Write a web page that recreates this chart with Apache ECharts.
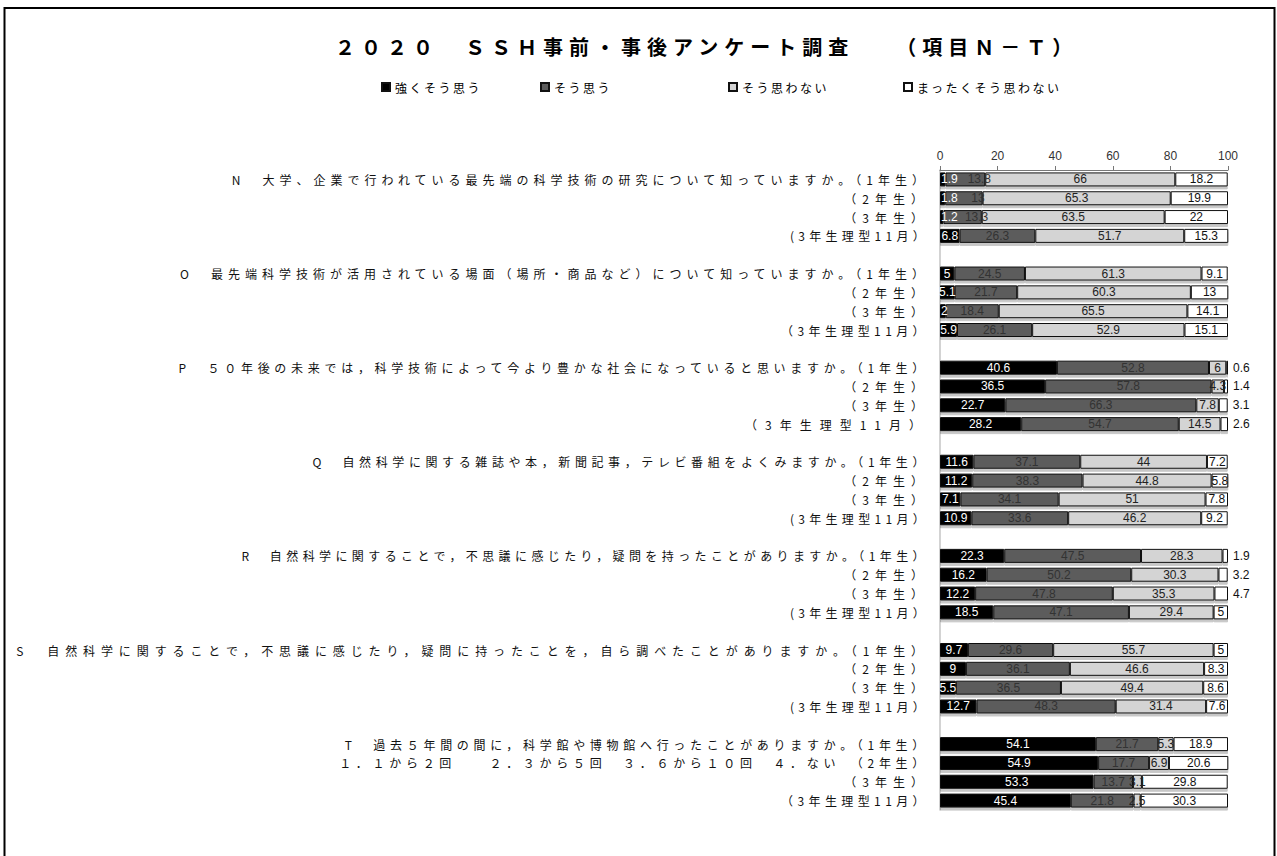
<!DOCTYPE html>
<html>
<head>
<meta charset="utf-8">
<script src="https://cdn.jsdelivr.net/npm/echarts@6/dist/echarts.min.js"></script>
<style>
  html, body { margin: 0; padding: 0; background: #fff; }
  #chart { width: 1277px; height: 856px; }
</style>
</head>
<body>
<div id="chart"></div>
<script>
// Row labels, 4 rows per question (N–T)
const categories = [
  'N　大学、企業で行われている最先端の科学技術の研究について知っていますか。（1年生）', '（2年生）', '（3年生）', '(3年生理型11月）',
  'O　最先端科学技術が活用されている場面（場所・商品など）について知っていますか。（1年生）', '（2年生）', '（3年生）', '（3年生理型11月）',
  'P　５０年後の未来では，科学技術によって今より豊かな社会になっていると思いますか。（1年生）', '（2年生）', '（3年生）', '（3年生理型11月）',
  'Q　自然科学に関する雑誌や本，新聞記事，テレビ番組をよくみますか。（1年生）', '（2年生）', '（3年生）', '(3年生理型11月）',
  'R　自然科学に関することで，不思議に感じたり，疑問を持ったことがありますか。（1年生）', '（2年生）', '（3年生）', '(3年生理型11月）',
  'S　自然科学に関することで，不思議に感じたり，疑問に持ったことを，自ら調べたことがありますか。（1年生）', '（2年生）', '（3年生）', '(3年生理型11月）',
  'T　過去５年間の間に，科学館や博物館へ行ったことがありますか。（1年生）', '１．１から２回　　２．３から５回　３．６から１０回　４．ない　（2年生）', '（3年生）', '（3年生理型11月）'
];

const seriesNames = ['強くそう思う', 'そう思う', 'そう思わない', 'まったくそう思わない'];

// Percentages per row
const strongAgree = [
  1.9, 1.8, 1.2, 6.8,
  5, 5.1, 2, 5.9,
  40.6, 36.5, 22.7, 28.2,
  11.6, 11.2, 7.1, 10.9,
  22.3, 16.2, 12.2, 18.5,
  9.7, 9, 5.5, 12.7,
  54.1, 54.9, 53.3, 45.4
];
const agree = [
  13.8, 13, 13.3, 26.3,
  24.5, 21.7, 18.4, 26.1,
  52.8, 57.8, 66.3, 54.7,
  37.1, 38.3, 34.1, 33.6,
  47.5, 50.2, 47.8, 47.1,
  29.6, 36.1, 36.5, 48.3,
  21.7, 17.7, 13.7, 21.8
];
const disagree = [
  66, 65.3, 63.5, 51.7,
  61.3, 60.3, 65.5, 52.9,
  6, 4.3, 7.8, 14.5,
  44, 44.8, 51, 46.2,
  28.3, 30.3, 35.3, 29.4,
  55.7, 46.6, 49.4, 31.4,
  5.3, 6.9, 3.1, 2.5
];
const stronglyDisagree = [
  18.2, 19.9, 22, 15.3,
  9.1, 13, 14.1, 15.1,
  0.6, 1.4, 3.1, 2.6,
  7.2, 5.8, 7.8, 9.2,
  1.9, 3.2, 4.7, 5,
  5, 8.3, 8.6, 7.6,
  18.9, 20.6, 29.8, 30.3
];

const xMin = 0, xMax = 100, xStep = 20;

const titleText = '２０２０　ＳＳＨ事前・事後アンケート調査　　（項目Ｎ－Ｔ）';

// letter spacing (px) of each row label, in row order
const rowSpacing = [
  5.0, 6, 6, 4.3,
  5.0, 6, 6, 4.4,
  4.7, 6, 6, 8,
  4.6, 6, 6, 4.3,
  4.4, 6, 6, 4.3,
  5.9, 6, 6, 4.3,
  4.7, 4.7, 6, 4.4
];

// insert a blank row between questions
function withGaps(arr, filler) {
  const out = [];
  arr.forEach((v, i) => {
    if (i > 0 && i % 4 === 0) out.push(filler);
    out.push(v);
  });
  return out;
}

const fills = ['#000000', '#5b5b5b', '#d4d4d4', '#ffffff'];
const labelColors = ['#ffffff', '#333333', '#222222', '#111111'];
const valueSets = [strongAgree, agree, disagree, stronglyDisagree];

// per-item label placement for very thin segments
function dataItem(si, v, i) {
  if (si === 0 && v < 3) {
    // keep the label inside the plot, starting at the bar's left end
    return { value: v, label: { position: 'insideLeft', distance: 1 } };
  }
  if (si === 1 && strongAgree[i] < 2) {
    // step aside from the neighbouring label at the bar start
    return { value: v, label: { offset: [14, 0] } };
  }
  if (si === 3 && v < 5) {
    // narrow white tails carry their label outside the bar
    return { value: v, label: { position: 'right', distance: 5, color: '#111' } };
  }
  return v;
}

const series = valueSets.map((vals, si) => ({
  name: seriesNames[si],
  type: 'bar',
  stack: 'total',
  barWidth: 14,
  data: withGaps(vals.map((v, i) => dataItem(si, v, i)), '-'),
  itemStyle: {
    color: fills[si],
    borderColor: '#111',
    borderWidth: 1,
    shadowColor: 'rgba(0,0,0,0.22)',
    shadowOffsetY: 3,
    shadowOffsetX: 0,
    shadowBlur: 0
  },
  label: {
    show: true,
    position: 'inside',
    color: labelColors[si],
    fontFamily: 'Liberation Sans, Arial, sans-serif',
    fontSize: 12,
    formatter: p => String(p.value)
  },
  emphasis: { disabled: true }
}));

const legendLefts = [381, 540, 728, 903];

const chart = echarts.init(document.getElementById('chart'), null, { renderer: 'svg' });
chart.setOption({
  animation: false,
  backgroundColor: '#ffffff',
  title: {
    text: titleText,
    left: 335,
    top: 36,
    padding: 0,
    textStyle: {
      fontFamily: 'Noto Sans CJK JP',
      fontSize: 20,
      fontWeight: 'bold',
      color: '#000'
    }
  },
  legend: seriesNames.map((name, i) => ({
    data: [name],
    left: legendLefts[i],
    top: 81,
    padding: 0,
    itemWidth: 8,
    itemHeight: 8,
    icon: 'rect',
    selectedMode: false,
    textStyle: { fontFamily: 'Noto Sans CJK JP', fontSize: 12, color: '#000' }
  })),
  graphic: [{
    type: 'rect',
    silent: true,
    shape: { x: 4.5, y: 8, width: 1270, height: 860 },
    style: { fill: 'none', stroke: '#000', lineWidth: 2 }
  }],
  grid: { left: 940, right: 49, top: 170, bottom: 46 },
  xAxis: {
    type: 'value',
    position: 'top',
    min: xMin,
    max: xMax,
    interval: xStep,
    axisLine: { show: true, lineStyle: { color: '#777', width: 1 } },
    axisTick: { show: true, length: 4, lineStyle: { color: '#777' } },
    splitLine: { show: false },
    axisLabel: { margin: 8, fontSize: 12, color: '#333', fontFamily: 'Liberation Sans, Arial, sans-serif' }
  },
  yAxis: {
    type: 'category',
    inverse: true,
    data: withGaps(categories, ''),
    axisLine: { show: true, lineStyle: { color: '#c4c4c4', width: 1.5 } },
    axisTick: { show: false },
    axisLabel: {
      interval: 0,
      margin: 11,
      fontSize: 12,
      color: '#111',
      fontFamily: 'Noto Sans CJK JP'
    }
  },
  series: series
});

// widen the lettering of the title, legend and row labels
function applyLetterSpacing() {
  let row = 0;
  document.querySelectorAll('#chart svg text').forEach(t => {
    const s = t.textContent;
    if (s === titleText) {
      t.style.letterSpacing = '6px';
    } else if (seriesNames.indexOf(s) >= 0) {
      t.style.letterSpacing = '2.5px';
    } else if (s && t.getAttribute('text-anchor') === 'end') {
      t.style.letterSpacing = (rowSpacing[row++] || 5) + 'px';
    }
  });
}
applyLetterSpacing();
chart.on('finished', applyLetterSpacing);
</script>
</body>
</html>
